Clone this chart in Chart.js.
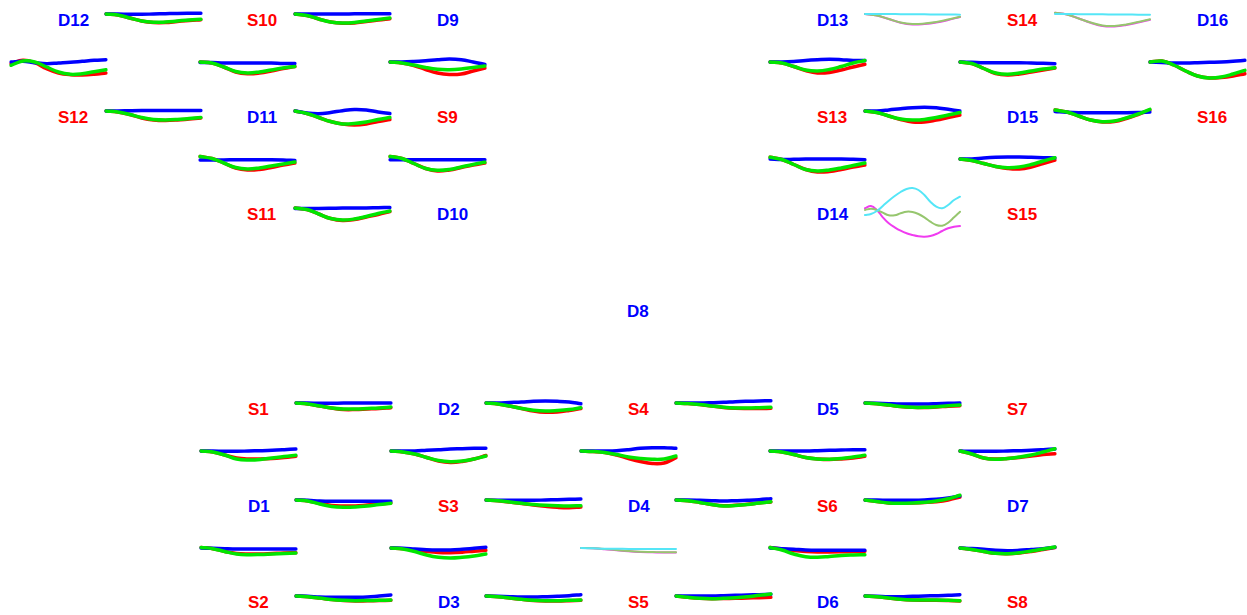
<!DOCTYPE html>
<html>
<head>
<meta charset="utf-8">
<script src="https://cdn.jsdelivr.net/npm/chart.js@4.4.1/dist/chart.umd.min.js"></script>
<style>
html, body { margin: 0; padding: 0; background: #fff; }
#stage { position: relative; width: 1247px; height: 615px; overflow: hidden; }
#stage canvas { position: absolute; }
.lbl { position: absolute; font: bold 17px "Liberation Sans", Arial, Helvetica, sans-serif; line-height: 17px; transform: translateY(-50%); white-space: nowrap; }
.D { color: #0000ff; }
.S { color: #ff0000; }
</style>
</head>
<body>
<div id="stage"></div>
<script>
// edges drawn with blue / red / green traces (values = sag below start, px)
const edges = [
  'D12-S10', 'S10-D9', 'D12-S12', 'S10-D11', 'D9-S9', 'S12-D11', 'D11-S9', 'D11-S11', 'S9-D10', 'S11-D10',
  'D13-S13', 'S14-D15', 'D16-S16', 'S13-D15', 'D15-S16', 'S13-D14', 'D15-S15',
  'S1-D2', 'D2-S4', 'S4-D5', 'D5-S7',
  'S1-D1', 'D2-S3', 'S4-D4', 'D5-S6', 'S7-D7',
  'D1-S3', 'S3-D4', 'D4-S6', 'S6-D7',
  'D1-S2', 'S3-D3', 'S6-D6', 'D7-S8',
  'S2-D3', 'D3-S5', 'S5-D6', 'D6-S8'
];

const blueTrace = [
  [0, 0, 0.3, 0.3, 0, -0.3, -0.6, -0.7, -0.7],
  [0, 0, 0, 0, 0, -0.2, -0.3, -0.3, -0.3],
  [0, -0.7, 0.7, 1.7, 1, 0.3, -0.7, -1.7, -2.3],
  [0.5, 0.5, 1, 1, 1, 1, 1, 1.5, 1.5],
  [0, 0, -0.5, -1.3, -2.3, -3, -2.3, 0, 2.5],
  [0, 0, -0.3, -0.5, -0.5, -0.5, -0.5, -0.5, -0.5],
  [0, 2, 2.7, 1.5, -0.3, -1.5, -1, 1, 2.5],
  [1, 1, 1, 0.7, 0.7, 0.7, 0.7, 1, 1.5],
  [0.7, 0.7, 0.7, 0.7, 0.7, 0.7, 0.7, 0.7, 0.7],
  [0.5, 0.5, 0.5, 0.3, 0, 0, 0, -0.3, -0.5],
  [0, 0, -0.5, -1.5, -2.2, -2.7, -2.3, -1.5, -1.5],
  [0, 0.3, 0.7, 0.7, 0.7, 0.7, 1, 1.3, 1.7],
  [0, 0.5, 1, 1, 0.7, 0.3, 0, -0.7, -1.7],
  [0, 0, -1, -2.3, -3.3, -3.7, -3.3, -1.7, 0],
  [0.5, 1.3, 1.7, 1.7, 1.7, 1.7, 1.7, 1.5, 1],
  [0, 0.5, 0.3, 0, 0, 0, 0, 0.3, 0.7],
  [0, 0, -1, -1.7, -2, -2, -1.7, -1.3, -1],
  [0, 0, 0.3, 0.3, 0, 0, 0, 0, 0],
  [0, 0, -0.5, -1, -1.7, -2, -1.7, -1, 0.7],
  [0, 0, 0, -0.3, -0.7, -1.3, -1.7, -2, -2.3],
  [0, 0.3, 0.7, 1, 1, 1, 0.7, 0.3, 0],
  [0, 0, 0.3, 0.3, 0, -0.3, -0.7, -1.3, -2],
  [0, 0, 0, -0.7, -1.3, -2, -2.3, -2.7, -2.7],
  [0, 0, 0, -0.3, -1.3, -2.7, -3.3, -3.3, -2.7],
  [0, 0, 0, 0, -0.3, -0.7, -1, -1.3, -1.3],
  [0, 0.3, 0.3, 0.3, 0, -0.3, -0.7, -1.3, -2],
  [0, 0.3, 1, 1.3, 1.3, 1.3, 1.3, 1.3, 1.3],
  [0, 0.3, 0.3, 0.3, 0.3, 0, -0.3, -0.7, -1],
  [0, 0, 0.3, 0.7, 1, 0.7, 0.3, -0.3, -1.3],
  [0, 0, 0.3, 0.3, 0.3, 0, -0.7, -2, -4],
  [0, 0.3, 0.7, 1, 1, 1, 1, 1, 1],
  [0, 0.3, 1, 1.7, 2, 2, 1.3, 0.3, -0.7],
  [0, 0.7, 1.3, 2, 2.3, 2.3, 2.3, 2.3, 2.3],
  [0, 0.5, 1.3, 2.3, 2.7, 2.3, 1.5, 0.7, -0.7],
  [0, 0.3, 1, 1.3, 1.3, 1.3, 1, 0, -1],
  [0, 0.3, 0.7, 1, 1, 0.7, 0.3, -0.3, -1.3],
  [0, 0, 0, 0, -0.3, -0.7, -1, -1.3, -1.7],
  [0, 0.3, 0.7, 0.7, 0.3, 0, -0.3, -0.7, -1.3]
];

const redTrace = [
  [0, 1, 4, 7, 8.5, 8.5, 7.5, 6.5, 5.7],
  [0, 1.5, 5, 8, 9.3, 9, 7.5, 6, 4.7],
  [1.7, -1.7, 0.7, 6.7, 11, 12.7, 13, 12.3, 11],
  [0, 1, 5, 10, 11.7, 11, 9, 6.5, 4.5],
  [0, 1, 3.5, 7.5, 11, 12.5, 12, 9, 6],
  [0, 1, 3.5, 7, 9, 9.5, 9, 8, 7],
  [0, 2.5, 6.5, 10.5, 13, 14, 13, 10.5, 8.5],
  [-2.5, -0.5, 4, 9, 11, 10.5, 8.5, 6, 4],
  [-2.5, -0.5, 4.5, 9.5, 12, 11, 8.5, 6, 4],
  [0, 1.5, 6, 10.5, 12.5, 11.5, 9, 6.5, 3.5],
  [0, 1, 4.5, 8.5, 11, 10.5, 8, 5, 2.3],
  [0, 1.5, 6.5, 11.5, 13, 12, 10, 8, 6],
  [0, -1, 3, 9, 14, 16, 15.5, 14, 11.7],
  [0, 1.5, 5, 8.5, 11, 11, 9, 6.5, 4],
  [-1, 1, 5, 9, 11, 10.5, 7.5, 3.5, -1],
  [-1.7, 0.5, 5.5, 10.5, 13, 12.5, 10.5, 8, 6],
  [0, 1.5, 4.5, 7.5, 9.5, 10, 8, 4.5, 1],
  [0, 1, 3, 5, 6.5, 6.5, 6, 5.5, 4.7],
  [0, 1, 3, 5.5, 8, 9.3, 9, 7.5, 5.5],
  [0, 0.5, 1.5, 3, 4.5, 5.3, 5.5, 5.5, 5.3],
  [0, 0.7, 2, 3.5, 4.3, 4.5, 4, 3.3, 2.7],
  [0, 1, 4, 7, 8, 8, 7.5, 6.5, 5.3],
  [0, 1, 3, 6.5, 10, 11.5, 10.5, 8, 4.5],
  [0, 0.5, 1.5, 4, 7.5, 10.5, 12.5, 12, 6.7],
  [0, 1, 3.5, 6.5, 8, 8.5, 8, 7, 5.3],
  [0, 3, 7, 8, 7.5, 6.5, 5, 3.5, 2.7],
  [0, 1, 3.5, 5.5, 6, 6, 5, 4, 3],
  [0, 0.7, 2, 3.5, 5, 6.3, 7.3, 7.7, 7],
  [0, 0.7, 2.5, 4.5, 5.7, 5.3, 4.3, 3, 2],
  [0, 1.5, 3, 3.3, 3, 2.5, 1.7, 0, -3],
  [-0.5, 0.7, 3.5, 5.5, 6, 6, 5.5, 5, 4.7],
  [0, 0.7, 2, 3.5, 4.5, 4.7, 4.2, 3.2, 2.3],
  [-0.5, 1, 2.5, 3.5, 4, 4, 3.8, 3.5, 3.3],
  [0, 1.5, 3.5, 5.3, 5.7, 5, 3.5, 1.5, -0.5],
  [0, 0.7, 2, 3.5, 4.5, 5, 4.8, 4.6, 4.3],
  [0, 0.7, 2, 3.3, 4.5, 5, 5, 4.7, 4.3],
  [0, 1.3, 2.3, 2.7, 2.5, 2.3, 2, 1.7, 1.3],
  [0, 0.7, 2, 3.3, 4, 4.2, 4.3, 4.6, 5]
];

const greenTrace = [
  [0, 1, 4, 7, 8.3, 8, 7, 6, 5.3],
  [0, 1.5, 5, 8, 9, 8.5, 7, 5.5, 4],
  [3.3, -1, 0, 5, 10, 12.3, 11.7, 9.7, 7.7],
  [0, 1, 5, 9.5, 11, 10, 8, 6, 4.5],
  [0, 1, 3, 5.5, 7.3, 7.7, 7, 5.5, 4],
  [0, 1, 3.5, 6.5, 8.5, 9, 8.5, 7.5, 6.5],
  [0, 2.5, 6.5, 10.5, 13, 12.5, 11, 8.5, 6.5],
  [-2.5, -0.5, 4, 8.5, 10, 9, 7, 5, 3],
  [-2.5, -0.5, 4.5, 9.5, 11.3, 10.5, 8, 5.5, 3.3],
  [0, 1.5, 6, 10.5, 12, 11, 8.5, 5.5, 3],
  [0, 1, 4.5, 8, 9, 7.5, 4.5, 1, -1.5],
  [0, 1.5, 6.5, 11, 12.3, 11, 9, 7, 5.7],
  [0, -1, 3, 9, 14, 16, 15, 12, 8.3],
  [0, 1.5, 5, 8, 9, 8.5, 6.5, 4, 1.5],
  [-1, 1, 5, 9, 10.7, 10, 7, 3, -1.7],
  [-1.7, 0.5, 5.5, 10.5, 12, 11, 9, 6.5, 4],
  [0, 1.5, 4.5, 7.5, 8.7, 8, 5.5, 2, -1.3],
  [0, 1, 3, 5, 6, 6, 5.5, 5, 4],
  [0, 1, 3, 5.5, 7.3, 8, 7.5, 6.5, 4.7],
  [0, 0.5, 1.5, 3, 4.3, 5, 5, 4.7, 4.3],
  [0, 0.7, 2, 3.5, 4.3, 4.3, 3.7, 2.7, 2],
  [0, 1, 4, 8, 9, 8.5, 7, 5.5, 4.3],
  [0, 1, 3, 6.5, 9.5, 10.7, 10, 8, 5],
  [0, 0.5, 1.5, 3.5, 6, 7.5, 8.3, 8, 5],
  [0, 1, 3.5, 6.5, 8, 8.3, 7.5, 6, 4.3],
  [0, 3, 7, 8.3, 7.5, 6, 4, 1, -2.3],
  [0, 1, 4, 6.5, 7.3, 7, 6, 4.5, 3.3],
  [0, 0.7, 2, 3.3, 4.5, 5.3, 5.8, 6, 5.7],
  [0, 0.7, 2.5, 4.5, 6, 5.5, 4.5, 3, 1.7],
  [0, 1.5, 3, 3.3, 3, 2.3, 1, -1.3, -4.7],
  [-0.5, 0.7, 3.5, 6, 6.7, 6.5, 6, 5.5, 5],
  [0, 1, 3.5, 7, 9.3, 10, 9.3, 8, 6],
  [-0.5, 2, 6, 8.7, 9.3, 8.5, 7.5, 7, 6.7],
  [0, 1.5, 3.5, 5.3, 5.7, 4.7, 3, 1, -1],
  [0, 0.7, 2, 3.5, 4.3, 4.7, 4.5, 4.3, 4],
  [0, 0.7, 2, 3.3, 4.3, 4.7, 4.7, 4.3, 4],
  [0, 1.3, 2.3, 2.7, 2.3, 1.7, 0.7, -0.7, -2],
  [0, 0.7, 2, 3.3, 4, 4, 4, 4.3, 4.7]
];

// edges drawn with thin cyan / olive / magenta traces
const thinEdges = ['D13-S14', 'S14-D16', 'D4-S5', 'D14-S15'];
const cyanTrace = [
  [0, 0, 0, 0.2, 0.3, 0.3, 0.5, 0.5, 0.7],
  [0, 0, 0.2, 0.3, 0.3, 0.5, 0.5, 0.7, 0.7],
  [0, 0.3, 0.7, 0.7, 1, 1, 1, 1, 1],
  [7, 6, 3, -2, -7.3, -12, -16, -19, -20, -18, -13, -6.3, -1.3, 0.3, -3, -8, -11.3]
];
const oliveTrace = [
  [0, 1.5, 5, 8.5, 10, 9.5, 8, 5.5, 2.7],
  [-1.3, 0.5, 4.5, 8.5, 11.5, 12, 10.5, 8, 5.3],
  [0, 0.3, 1, 2, 3, 3.7, 4, 4.3, 4.3],
  [2, 0.7, 2, 4.7, 7.3, 7.3, 5.3, 3.7, 4, 6, 9.3, 13.7, 17, 17.7, 14.7, 9.3, 3.7]
];
const magentaTrace = [
  [0, 1.5, 5, 8.7, 10.5, 10, 8.5, 6, 3],
  [-1.3, 0.5, 4.5, 8.7, 12, 12.5, 11, 8.5, 5.7],
  [0, 0.3, 1.2, 2.3, 3.3, 4, 4.3, 4.6, 4.6],
  [0.3, -2, 2, 9.3, 15.3, 19.3, 22.7, 25.3, 27, 28.3, 28.7, 28, 26, 23, 20.3, 18.7, 18]
];

// node labels: name -> [left x, centre y]
const nodes = {
  D12: [58, 20], S10: [247, 20], D9: [437, 20],
  S12: [58, 117], D11: [247, 117], S9: [437, 117],
  S11: [247, 214], D10: [437, 214],
  D13: [817, 20], S14: [1007, 20], D16: [1197, 20],
  S13: [817, 117], D15: [1007, 117], S16: [1197, 117],
  D14: [817, 214], S15: [1007, 214],
  D8: [627, 311],
  S1: [248, 409], D2: [438, 409], S4: [628, 409], D5: [817, 409], S7: [1007, 409],
  D1: [248, 506], S3: [438, 506], D4: [628, 506], S6: [817, 506], D7: [1007, 506],
  S2: [248, 602], D3: [438, 602], S5: [628, 602], D6: [817, 602], S8: [1007, 602]
};

const stage = document.getElementById('stage');

for (const [name, pos] of Object.entries(nodes)) {
  const el = document.createElement('div');
  el.className = 'lbl ' + name[0];
  el.textContent = name;
  el.style.left = pos[0] + 'px';
  el.style.top = pos[1] + 'px';
  stage.appendChild(el);
}

const PLOT_W = 95, PLOT_H = 80, PAD = 4;

function plotBox(edge) {
  const [a, b] = edge.split('-');
  const p = nodes[a], q = nodes[b];
  if (p[1] === q[1]) {
    return { left: p[0] + 48, base: p[1] - 6 };
  }
  return { left: p[0] - 47, base: (p[1] + q[1]) / 2 - 6.5 };
}

function addPlot(edge, sets, width) {
  const box = plotBox(edge);
  const cv = document.createElement('canvas');
  cv.width = PLOT_W + 2 * PAD;
  cv.height = PLOT_H;
  cv.style.left = (box.left - PAD) + 'px';
  cv.style.top = (box.base - PLOT_H / 2) + 'px';
  stage.appendChild(cv);
  new Chart(cv.getContext('2d'), {
    type: 'line',
    data: {
      labels: sets[0].data.map((_, i) => i),
      datasets: sets.map(s => ({
        data: s.data,
        borderColor: s.color,
        borderWidth: width,
        pointRadius: 0,
        tension: 0.4,
        fill: false,
        borderCapStyle: 'round'
      }))
    },
    options: {
      responsive: false,
      animation: false,
      devicePixelRatio: 1,
      events: [],
      layout: { padding: { left: PAD, right: PAD, top: 0, bottom: 0 } },
      plugins: { legend: { display: false }, tooltip: { enabled: false } },
      scales: {
        x: { display: false },
        y: { display: false, min: -PLOT_H / 2, max: PLOT_H / 2, reverse: true }
      }
    }
  });
}

// first dataset is drawn on top
edges.forEach((edge, i) => {
  addPlot(edge, [
    { data: greenTrace[i], color: '#00e600' },
    { data: blueTrace[i], color: '#0000ff' },
    { data: redTrace[i], color: '#ff0000' }
  ], 3.5);
});

thinEdges.forEach((edge, i) => {
  addPlot(edge, [
    { data: cyanTrace[i], color: '#55e6f7' },
    { data: oliveTrace[i], color: '#96c66e' },
    { data: magentaTrace[i], color: '#f03cf0' }
  ], 2);
});
</script>
</body>
</html>
